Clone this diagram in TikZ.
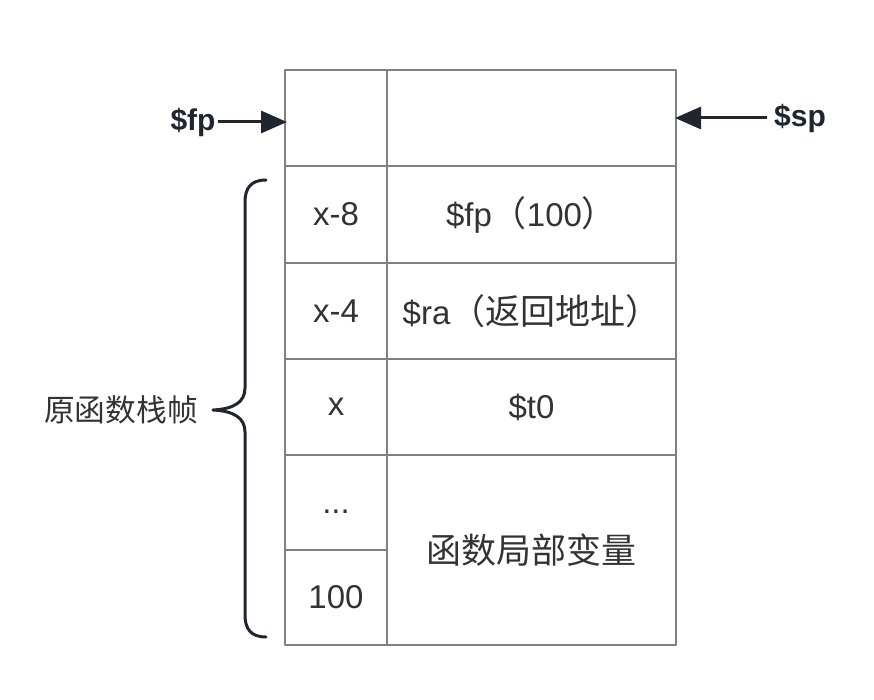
\documentclass[tikz,border=0pt]{standalone}
\usepackage{fontspec}
\setmainfont{Liberation Sans}
\newfontfamily\cjk{Noto Sans CJK SC}[Scale=1.06]
\usetikzlibrary{arrows.meta}
\definecolor{Lgray}{RGB}{128,128,128}
\definecolor{Tgray}{RGB}{51,51,51}
\definecolor{Bdark}{RGB}{31,38,48}

\begin{document}
\begin{tikzpicture}[x=1pt,y=-1pt,line cap=round,line join=round,
  cell/.style={rectangle,draw=Lgray,line width=2pt,inner sep=0pt,outer sep=0pt,text=Tgray,font=\fontsize{33}{39}\selectfont},
  ptr/.style={draw=Bdark,line width=3pt,line cap=butt,-{Triangle[length=26pt,width=22pt]}},
  reg/.style={text=Bdark,inner sep=2pt,font=\bfseries\fontsize{30}{36}\selectfont}]
\path[use as bounding box] (0,0) rectangle (874,700);
% stack cells, left column = offsets, right column = contents
\node[cell,minimum width=102pt,minimum height=96pt] (L0) at (336,118) {};
\node[cell,minimum width=289pt,minimum height=96pt] (R0) at (531.5,118) {};
\node[cell,minimum width=102pt,minimum height=97pt] (L1) at (336,214.5) {x-8};
\node[cell,minimum width=289pt,minimum height=97pt] (R1) at (531.5,214.5) {\$fp{\cjk（}100{\cjk）}};
\node[cell,minimum width=102pt,minimum height=96pt] (L2) at (336,311) {x-4};
\node[cell,minimum width=289pt,minimum height=96pt] (R2) at (531.5,311) {\$ra{\cjk（返回地址）}};
\node[cell,minimum width=102pt,minimum height=96pt] (L3) at (336,407) {x};
\node[cell,minimum width=289pt,minimum height=96pt] (R3) at (531.5,407) {\$t0};
\node[cell,minimum width=102pt,minimum height=95pt] (L4) at (336,502.5) {\vphantom{0}...};
\node[cell,minimum width=102pt,minimum height=95pt] (L5) at (336,597.5) {100};
\node[cell,minimum width=289pt,minimum height=190pt] (R4) at (531.5,550) {\cjk 函数局部变量};
% frame and stack pointers
\node[reg] (fp) at (193,122) {\$fp};
\node[reg] (sp) at (800,118) {\$sp};
\draw[ptr] (fp.east) -- ([xshift=2pt]fp.east-|L0.west);
\draw[ptr] ([xshift=-5pt]sp.west) -- ([xshift=-1pt]sp.west-|R0.east);
% brace for the caller's frame
\draw[draw=Bdark,line width=3pt] (266,180) .. controls (251,180) and (245,188) .. (245,202)
  -- (245,388) .. controls (245,402) and (234,409) .. (213,410)
  .. controls (234,411) and (245,418) .. (245,432)
  -- (245,615) .. controls (245,629) and (251,637) .. (266,637);
\node[text=Tgray,font=\cjk\fontsize{29}{34}\selectfont] (frame) at (121,410) {原函数栈帧};
\end{tikzpicture}
\end{document}
